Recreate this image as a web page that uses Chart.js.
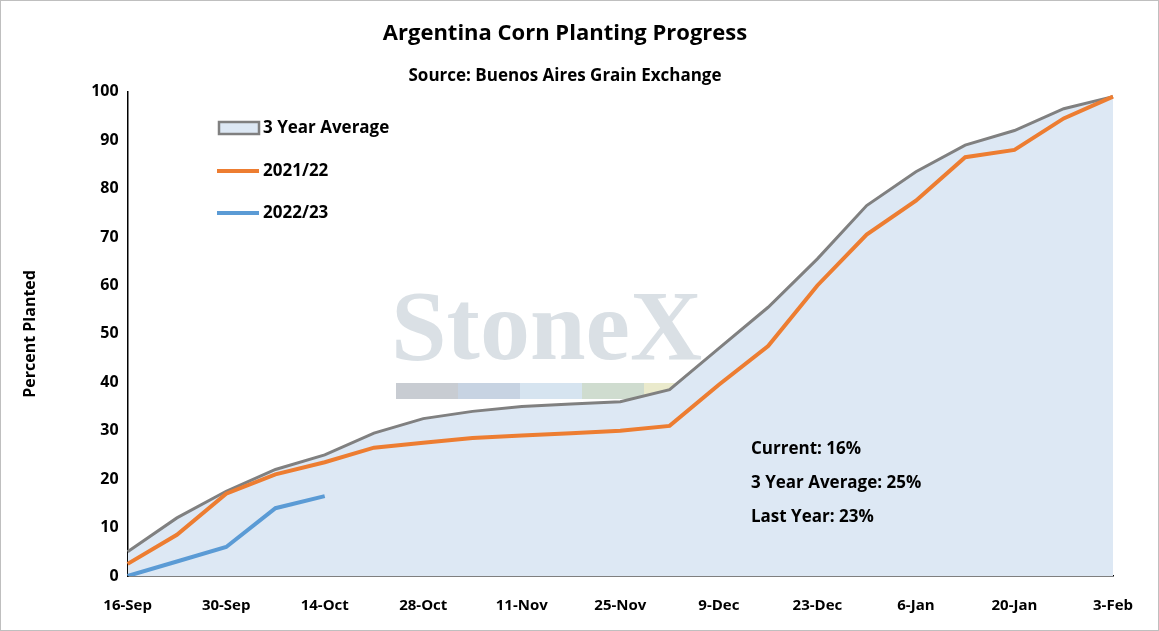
<!DOCTYPE html>
<html><head><meta charset="utf-8">
<script src="https://cdn.jsdelivr.net/npm/chart.js@4"></script>
<style>body{margin:0;background:#fff}#wrap{position:absolute;left:0;top:0;width:1157px;height:629px;border:1px solid #bfbfbf}</style>
</head><body><div id="wrap"><canvas id="c" width="1157" height="629"></canvas></div>
<script>
const weeks=["16-Sep","23-Sep","30-Sep","7-Oct","14-Oct","21-Oct","28-Oct","4-Nov","11-Nov","18-Nov","25-Nov","2-Dec","9-Dec","16-Dec","23-Dec","30-Dec","6-Jan","13-Jan","20-Jan","27-Jan","3-Feb"];
const avg3=[5,12,17.5,22,25,29.5,32.5,34,35,35.5,36,38.5,47,55.5,65.5,76.5,83.5,89,92,96.5,99];
const y2122=[2.5,8.5,17,21,23.5,26.5,27.5,28.5,29,29.5,30,31,39.5,47.5,60,70.5,77.5,86.5,88,94.5,99];
const y2223=[0,3,6,14,16.5];
const notes=["Current: 16%","3 Year Average: 25%","Last Year: 23%"];
const F="'Open Sans', 'Liberation Sans', sans-serif";
const extra={id:'extra',beforeDatasetsDraw(ch){const c=ch.ctx;c.save();
c.font="bold 100px 'Liberation Serif', serif";c.fillStyle='rgba(150,165,180,0.35)';c.textBaseline='alphabetic';c.fillText('StoneX',390,358);
const cols=['#c8ccd2','#c7d3e2','#d6e4f0','#cfdccf','#eaeacc'];cols.forEach((k,i)=>{c.fillStyle=k;c.fillRect(395+i*62,382,62,16)});
c.restore();},
afterDraw(ch){const c=ch.ctx;c.save();c.font="bold 17px "+F;c.fillStyle='#000';c.textBaseline='middle';
const L=[['3 Year Average',127,'#808080','#dde8f4',true],['2021/22',170,'#ed7d31'],['2022/23',212,'#5b9bd5']];
L.forEach(l=>{if(l[4]){c.fillStyle=l[3];c.fillRect(218,121,40,12);c.strokeStyle=l[2];c.lineWidth=2.5;c.strokeRect(218,121,40,12);}
else{c.strokeStyle=l[2];c.lineWidth=4;c.beginPath();c.moveTo(216,l[1]);c.lineTo(258,l[1]);c.stroke();}
c.fillStyle='#000';c.fillText(l[0],262,l[1]);});
notes.forEach((t,i)=>c.fillText(t,750,448+i*34));c.restore();}};
new Chart(document.getElementById('c'),{type:'line',
data:{labels:weeks,datasets:[
{data:avg3,borderColor:'#808080',backgroundColor:'#dde8f4',fill:'origin',borderWidth:3,pointRadius:0,tension:0,order:3},
{data:y2122,borderColor:'#ed7d31',borderWidth:4,pointRadius:0,fill:false,order:2},
{data:y2223,borderColor:'#5b9bd5',borderWidth:4,pointRadius:0,fill:false,order:1}]},
options:{responsive:false,animation:false,
layout:{padding:{left:16,right:45,top:2,bottom:0}},
plugins:{legend:{display:false},tooltip:{enabled:false},
title:{display:true,text:'Argentina Corn Planting Progress',color:'#000',font:{size:22,weight:'bold',family:F},padding:{top:18,bottom:19}},
subtitle:{display:true,text:'Source: Buenos Aires Grain Exchange',color:'#000',font:{size:17,weight:'bold',family:F},padding:{bottom:5}}},
scales:{x:{offset:false,grid:{display:false,drawTicks:true,tickLength:6,color:'#000'},border:{color:'#000',width:1.5},
ticks:{autoSkip:false,maxRotation:0,padding:15,color:'#000',font:{size:15,weight:'bold',family:F},callback:(v,i)=>i%2===0?weeks[i]:''}},
y:{min:0,max:100,grid:{display:false,tickLength:6},border:{color:'#000',width:1.5},
ticks:{stepSize:10,color:'#000',font:{size:16,weight:'bold',family:F}},
title:{display:true,text:'Percent Planted',color:'#000',font:{size:16,weight:'bold',family:F},padding:{bottom:48}}}}},
plugins:[extra]});
</script></body></html>
